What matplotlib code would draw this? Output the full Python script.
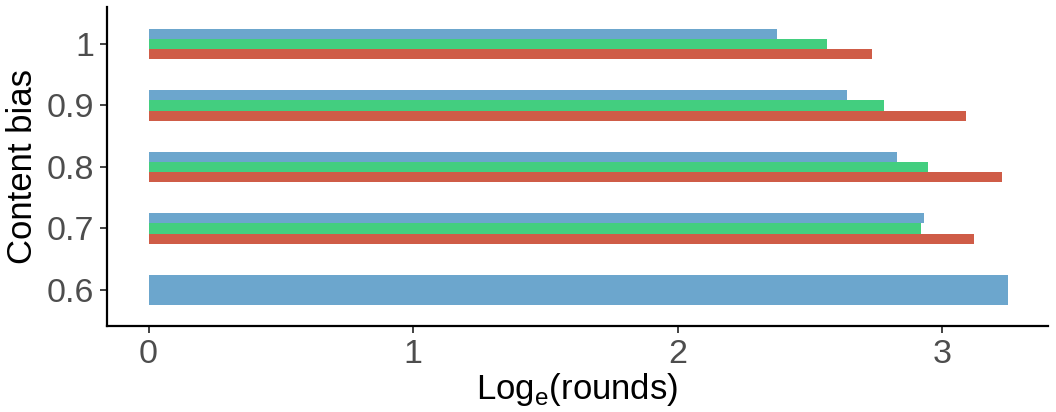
import matplotlib
matplotlib.use("Agg")
import matplotlib.pyplot as plt
import numpy as np

plt.rcParams['font.family'] = ['Liberation Sans', 'DejaVu Sans']

# content bias levels and log(rounds) per model variant
bias = [0.6, 0.7, 0.8, 0.9, 1.0]
blue_vals = [3.25, 2.93, 2.83, 2.64, 2.376]
green_vals = [np.nan, 2.92, 2.947, 2.78, 2.565]
red_vals = [np.nan, 3.12, 3.227, 3.09, 2.735]
yticklabels = ["0.6", "0.7", "0.8", "0.9", "1"]

c_blue = "#6CA6CD"
c_green = "#43CE7F"
c_red = "#CF5C47"

fig = plt.figure(figsize=(10.56, 4.12), dpi=100)
ax = fig.add_axes([0.1013, 0.2087, 0.8911, 0.7743])

w = 0.05
for i, b in enumerate(bias):
    vals = [(red_vals[i], c_red), (green_vals[i], c_green), (blue_vals[i], c_blue)]
    vals = [v for v in vals if not np.isnan(v[0])]
    h = w / len(vals)
    for k, (v, c) in enumerate(vals):
        ax.barh(b - w / 2 + k * h, v, height=h, align='edge', color=c, linewidth=0)

ax.set_xlim(-0.157, 3.40)
ax.set_ylim(0.5415, 1.06)
ax.set_xticks([0, 1, 2, 3])
ax.set_yticks(bias)
ax.set_yticklabels(yticklabels)

for s in ['top', 'right']:
    ax.spines[s].set_visible(False)
for s in ['left', 'bottom']:
    ax.spines[s].set_linewidth(1.6)
    ax.spines[s].set_color('black')

ax.tick_params(axis='both', labelsize=24.5, labelcolor='#4D4D4D', color='#333333',
               length=5, width=1.3, pad=4)
ax.set_xlabel("Log$_\\mathregular{e}$(rounds)", fontsize=25, labelpad=1)
ax.set_ylabel("Content bias", fontsize=25, labelpad=6)

fig.savefig("out.png", dpi=100)
